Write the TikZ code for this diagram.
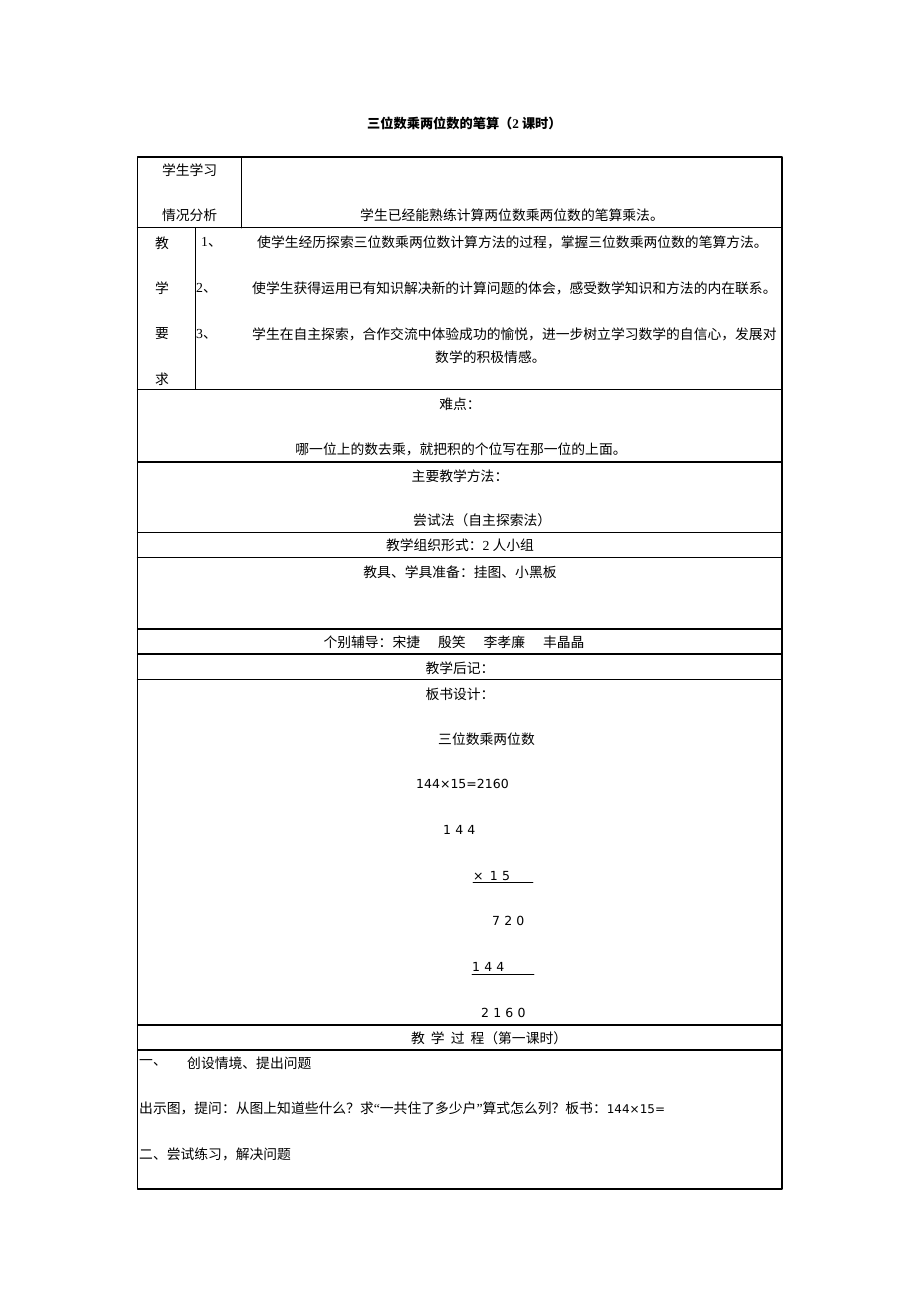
\documentclass[tikz,border=0pt]{standalone}
\usepackage{fontspec}
\setmainfont{Liberation Serif}
\newfontfamily\cjk{Noto Sans CJK SC}
\newfontfamily\numfont{DejaVu Sans}
\newfontfamily\latn{Liberation Serif}

\begin{document}
\begin{tikzpicture}[line cap=round,line join=round,x=1pt,y=-1pt,
	txt/.style={font=\cjk\fontsize{13.8}{16}\selectfont,inner sep=0pt},
	sums/.style={font=\numfont\fontsize{12.5}{14}\selectfont,inner sep=0pt}]
		\useasboundingbox (0,0) rectangle (920,1302);
		\draw [line width=1.7pt] (137.5,157)-- (781.7,157)-- (781.7,1189)-- (137.5,1189)-- cycle;
		\draw [line width=1.3pt] (137.5,227.7)-- (781.7,227.7);
		\draw [line width=1.3pt] (137.5,389.3)-- (781.7,389.3);
		\draw [line width=1.3pt] (137.5,462)-- (781.7,462);
		\draw [line width=1.3pt] (137.5,532.3)-- (781.7,532.3);
		\draw [line width=1.3pt] (137.5,557.7)-- (781.7,557.7);
		\draw [line width=1.3pt] (137.5,629)-- (781.7,629);
		\draw [line width=1.3pt] (137.5,654)-- (781.7,654);
		\draw [line width=1.3pt] (137.5,679.3)-- (781.7,679.3);
		\draw [line width=1.3pt] (137.5,1025)-- (781.7,1025);
		\draw [line width=1.3pt] (137.5,1050)-- (781.7,1050);
		\draw [line width=1.3pt] (241.7,157)-- (241.7,227.7);
		\draw [line width=1.3pt] (195.7,227.7)-- (195.7,389.3);
		\draw [line width=0.7pt] (473,882)-- (533,882);
		\draw [line width=0.7pt] (472,974)-- (534,974);
		\draw (367,123) node[txt,anchor=west,font=\cjk\bfseries\fontsize{13.2}{16}\selectfont] (title) {三位数乘两位数的笔算（{\latn\bfseries 2} 课时）};
		\draw (189.6,170) node[txt] (qk1) {学生学习};
		\draw (189.6,215) node[txt] (qk2) {情况分析};
		\draw (512,215) node[txt] (qk) {学生已经能熟练计算两位数乘两位数的笔算乘法。};
		\draw (162,243) node[txt] (yq1) {教};
		\draw (162,288) node[txt] (yq2) {学};
		\draw (162,334) node[txt] (yq3) {要};
		\draw (162,379) node[txt] (yq4) {求};
		\draw (201,242) node[txt,anchor=west] (n1) {{\latn 1}、};
		\draw (257,242) node[txt,anchor=west] (m1) {使学生经历探索三位数乘两位数计算方法的过程，掌握三位数乘两位数的笔算方法。};
		\draw (196,288) node[txt,anchor=west] (n2) {{\latn 2}、};
		\draw (252,288) node[txt,anchor=west] (m2) {使学生获得运用已有知识解决新的计算问题的体会，感受数学知识和方法的内在联系。};
		\draw (196,334) node[txt,anchor=west] (n3) {{\latn 3}、};
		\draw (252,334) node[txt,anchor=west] (m3) {学生在自主探索，合作交流中体验成功的愉悦，进一步树立学习数学的自信心，发展对};
		\draw (435,357) node[txt,anchor=west] (m3b) {数学的积极情感。};
		\draw (460,404) node[txt] (nd) {难点：};
		\draw (461,449) node[txt] (ndt) {哪一位上的数去乘，就把积的个位写在那一位的上面。};
		\draw (460,476) node[txt] (ff) {主要教学方法：};
		\draw (413,520) node[txt,anchor=west] (fft) {尝试法（自主探索法）};
		\draw (460,545) node[txt] (zz) {教学组织形式：{\latn 2} 人小组};
		\draw (460,572) node[txt] (jj) {教具、学具准备：挂图、小黑板};
		\draw (454,642) node[txt] (fd) {个别辅导：宋捷\hspace{18pt}殷笑\hspace{18pt}李孝廉\hspace{18pt}丰晶晶};
		\draw (460,668) node[txt] (hj) {教学后记：};
		\draw (460,694) node[txt] (bs) {板书设计：};
		\draw (438,739) node[txt,anchor=west] (bst) {三位数乘两位数};
		\draw (416,784) node[sums,anchor=west] (eq) {144×15=2160};
		\draw (443,830) node[sums,anchor=west] (r1) {1\,\,4\,\,4};
		\draw (473,876) node[sums,anchor=west] (r2) {×\,\,\,1\,\,5};
		\draw (492,921) node[sums,anchor=west] (r3) {7\,\,2\,\,0};
		\draw (472,967) node[sums,anchor=west] (r4) {1\,\,4\,\,4};
		\draw (481,1013) node[sums,anchor=west] (r5) {2\,\,1\,\,6\,\,0};
		\draw (411,1038) node[txt,anchor=west] (gc) {教\hspace{6pt}学\hspace{6pt}过\hspace{6pt}程（第一课时）};
		\draw (139,1063) node[txt,anchor=west] (s1) {一、};
		\draw (187,1063) node[txt,anchor=west] (s1t) {创设情境、提出问题};
		\draw (139,1108) node[txt,anchor=west] (s2) {出示图，提问：从图上知道些什么？求{\latn “}一共住了多少户{\latn ”}算式怎么列？板书：{\numfont\fontsize{12}{14}\selectfont 144×15=}};
		\draw (139,1154) node[txt,anchor=west] (s3) {二、尝试练习，解决问题};
	\end{tikzpicture}
\end{document}
